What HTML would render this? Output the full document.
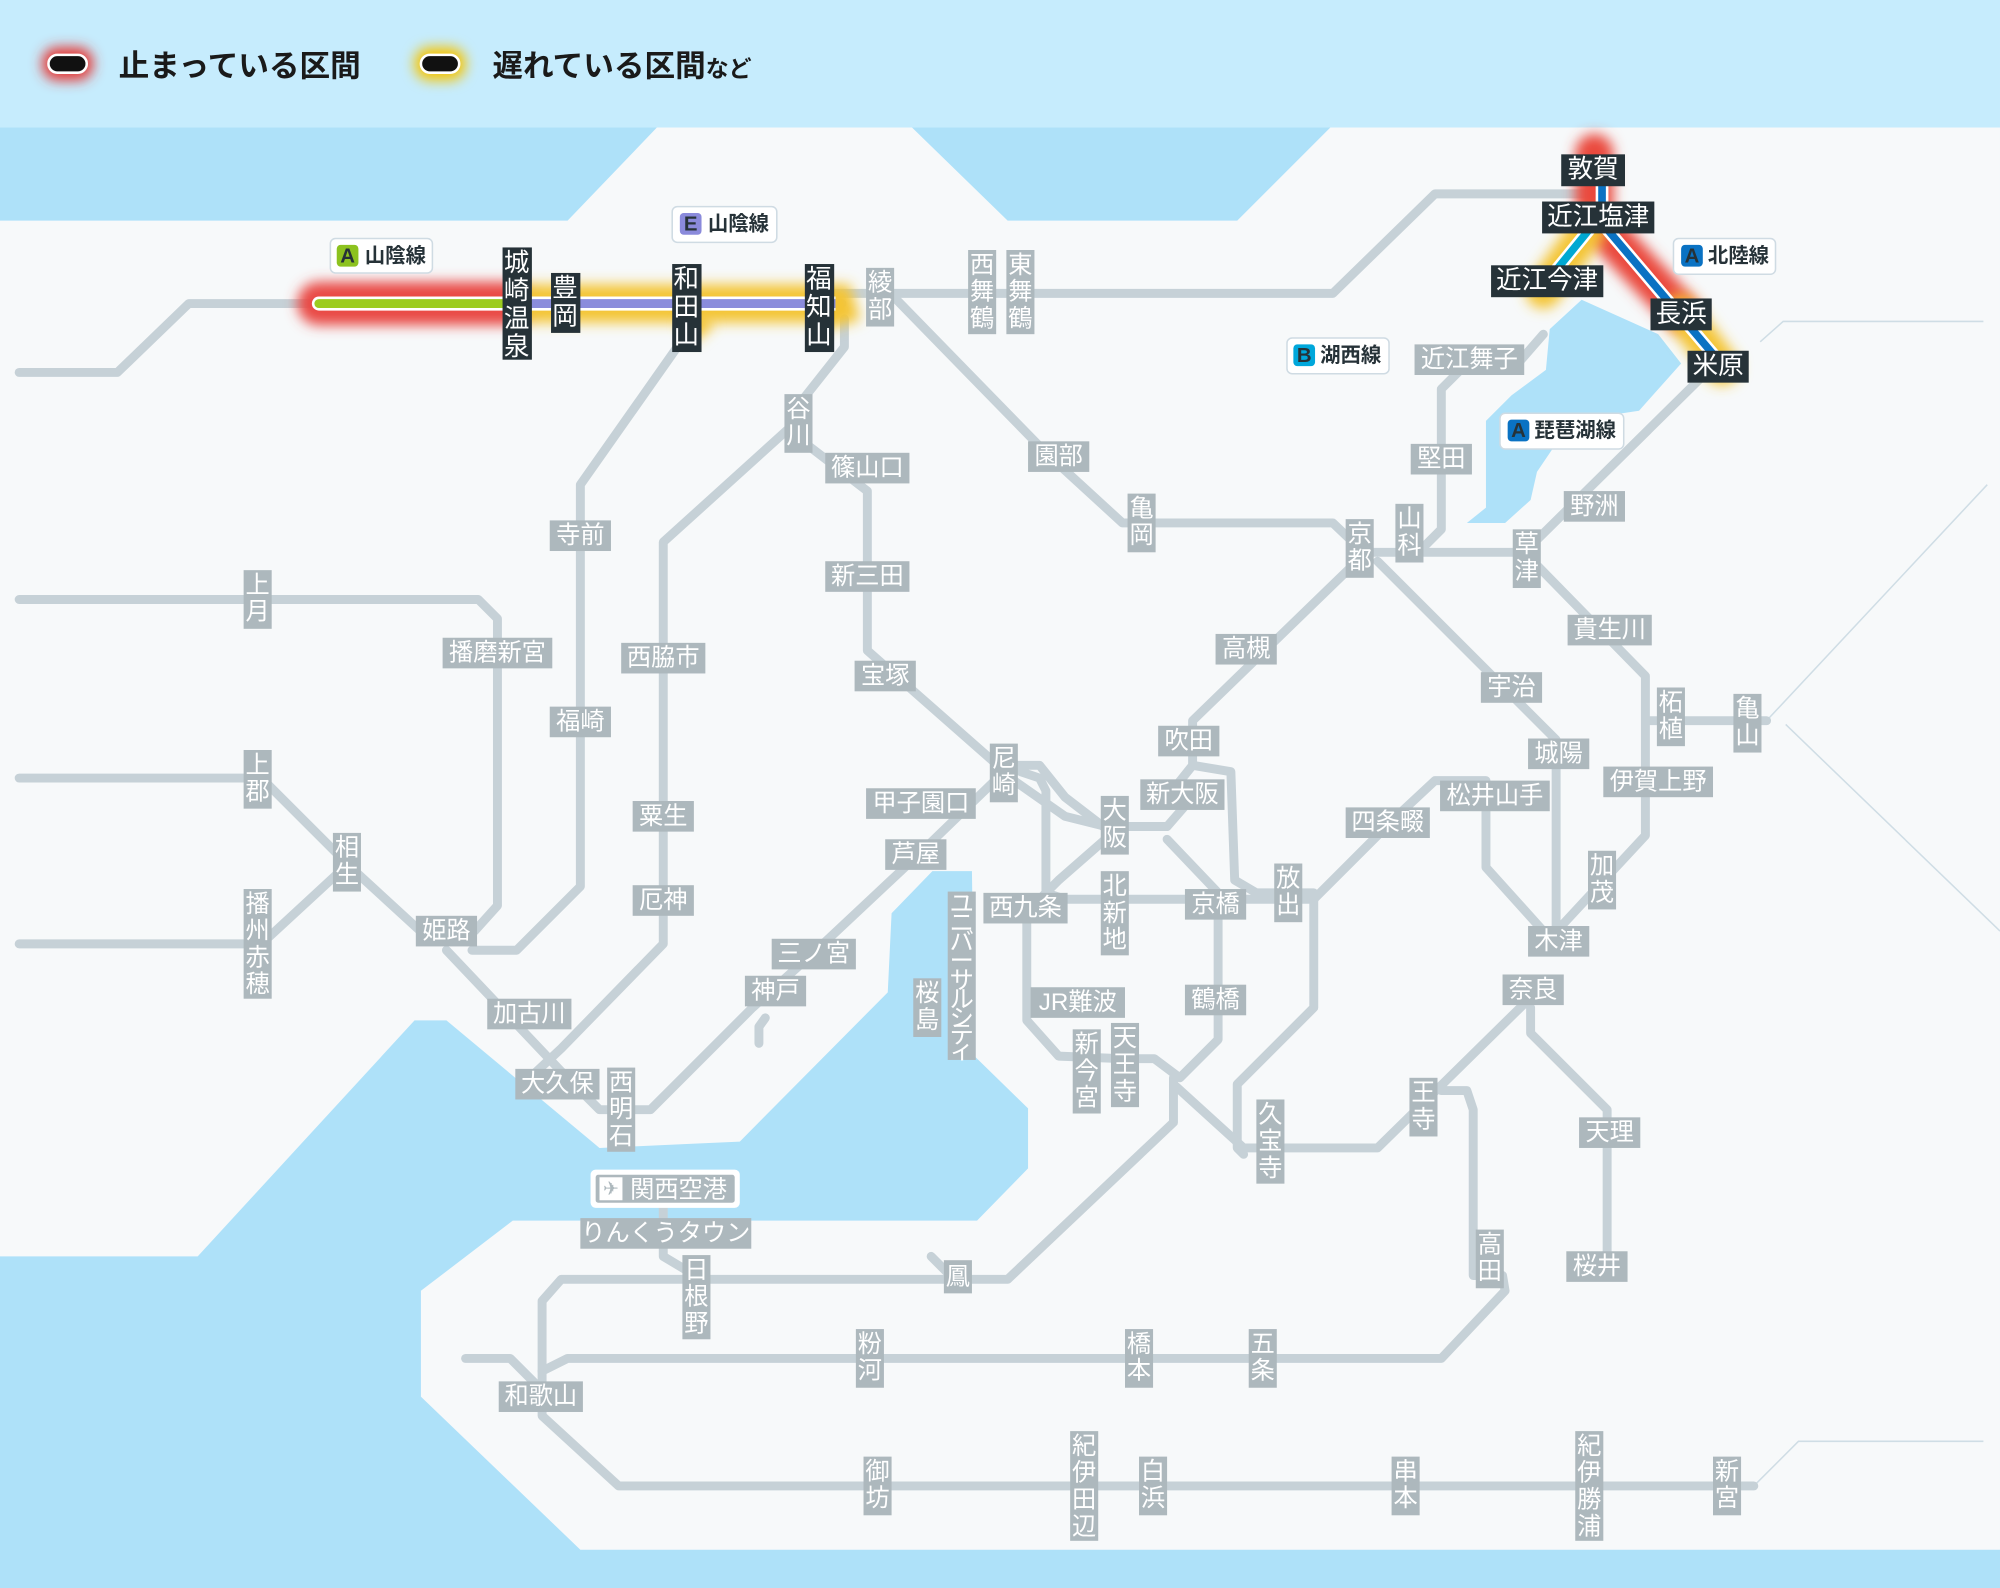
<!DOCTYPE html>
<html><head><meta charset="utf-8"><style>
html,body{margin:0;padding:0;width:2000px;height:1588px;overflow:hidden;background:#aee1f9}
svg{display:block}
text{font-family:"Liberation Sans","Noto Sans CJK JP",sans-serif}
.r{fill:none;stroke:#c6d1d7;stroke-width:7;stroke-linejoin:round;stroke-linecap:round}
.t{fill:none;stroke:#cfdde5;stroke-width:1.2}
.gl rect{fill:#adb8bd}.gl text{fill:#fff;font-size:19px;text-anchor:middle;dominant-baseline:central}
.dk rect{fill:#263238}.dk text{fill:#fff;font-size:20px;text-anchor:middle;dominant-baseline:central}
.bd rect.b{fill:#fff;stroke:#cfdbe3;stroke-width:1.2}
.bd text{font-size:16px;fill:#263238;dominant-baseline:central;font-weight:bold}
</style></head><body>
<svg width="2000" height="1588" viewBox="0 0 1568 1245" xmlns="http://www.w3.org/2000/svg">
<defs>
<filter id="bl" filterUnits="userSpaceOnUse" x="0" y="0" width="1568" height="1245"><feGaussianBlur stdDeviation="5"/></filter>
</defs>
<rect x="0" y="0" width="1568" height="100" fill="#c6ecfd"/>
<polygon fill="#f7f9fa" points="0,173 445,173 515,100 715,100 790,173 970,173 1043,100 1568,100 1568,1215 455,1215 330,1095 330,1012 402,957 766,957 806,916 806,869 764,828 762,683 731,683 699,716 696,778 580,895 470,900 350,800 325,800 155,985 0,985"/>
<polygon fill="#aee1f9" points="1150,410 1165,398 1165,330 1185,310 1212,290 1215,258 1240,235 1300,262 1318,285 1285,322 1232,330 1205,370 1200,392 1180,410"/>
<path class="t" d="M1385,565 L1558,380 M1400,568 L1568,730 M1380,268 L1398,252 L1555,252 M1375,1165 L1410,1130 L1555,1130"/>
<!-- header legend -->
<rect x="33" y="37" width="40" height="26" rx="12" fill="#e53935" filter="url(#bl)"/>
<rect x="38" y="43" width="30" height="14" rx="7" fill="#111" stroke="#fff" stroke-width="2"/>
<text x="93" y="60" font-size="24" font-weight="bold" fill="#1a1a1a">止まっている区間</text>
<rect x="325" y="37" width="40" height="26" rx="12" fill="#f5c400" filter="url(#bl)"/>
<rect x="330" y="43" width="30" height="14" rx="7" fill="#111" stroke="#fff" stroke-width="2"/>
<text x="386" y="60" font-size="24" font-weight="bold" fill="#1a1a1a">遅れている区間<tspan font-size="18">など</tspan></text>
<!-- rails -->
<path class="r" d="M15,292 L92,292 L148,238 L660,238 M640,230 L1045,230 L1125,152 L1250,152"/>
<path class="r" d="M700,232 L820,355 L880,410 L1045,410 L1066,430 M1066,433 L1195,433 M1066,438 L935,565 L935,600 L915,625 M1080,440 L1220,580 L1220,740"/>
<path class="r" d="M1195,433 L1350,280 M1195,433 L1290,530 L1290,565 L1385,565 M1290,565 L1290,655 L1225,725"/>
<path class="r" d="M1112,433 L1130,415 L1130,305 L1150,285 L1190,285 L1210,262"/>
<path class="r" d="M662,250 L662,272 L628,315 L628,345 L680,385 L680,510 L780,598 M625,330 L520,425 L520,740 L440,822 L410,850"/>
<path class="r" d="M543,255 L455,380 L455,695 L405,745 L370,745"/>
<path class="r" d="M15,470 L375,470 L390,485 L390,710 L372,730"/>
<path class="r" d="M15,610 L205,610 L275,680 L335,735 M15,740 L205,740 L270,680 M350,745 L440,840 L470,870 L510,870 L590,790 L640,745 L720,670 L780,612 L795,600 L815,600 L835,625 L865,648 L915,648 L935,625 M800,605 L815,610 L820,620 L820,700 L835,705 L1030,705 L1095,640 L1125,612 L1165,612 L1165,680 L1210,730 L1225,740"/>
<path class="r" d="M795,612 L835,640 L875,650 M870,655 L830,690 L805,715 L805,800 L830,828 L880,830 L905,830 L925,845 L955,815 L955,700 L915,658"/>
<path class="r" d="M595,818 L595,805 L600,798"/>
<path class="r" d="M935,600 L965,605 L968,690 L985,700 L1030,700 L1030,790 L970,850 L970,900 L975,905"/>
<path class="r" d="M920,850 L975,900 L1080,900 L1200,782 M1200,790 L1200,810 L1260,870 L1260,995 L1240,1000 M1130,855 L1150,855 L1155,870 L1155,1000 L1178,1000 L1180,1012 L1130,1065 L445,1065 L425,1075"/>
<path class="r" d="M920,845 L920,880 L790,1003 L440,1003 L425,1020 L425,1085 M545,1000 L520,985 L520,945 M730,985 L745,1000"/>
<path class="r" d="M365,1065 L400,1065 L425,1090 L425,1110 L485,1165 L1375,1165"/>
<!-- highlights -->
<path d="M250,238 L400,238" stroke="#e94a45" stroke-width="34" stroke-linecap="round" fill="none" filter="url(#bl)"/>
<path d="M405,238 L655,238 L660,255" stroke="#f4c535" stroke-width="30" fill="none" filter="url(#bl)"/>
<path d="M540,248 L552,262" stroke="#f4c535" stroke-width="20" fill="none" filter="url(#bl)"/>
<path d="M1250,120 L1250,172 L1318,245" stroke="#ea4a3c" stroke-width="30" stroke-linecap="round" fill="none" filter="url(#bl)"/>
<path d="M1318,245 L1350,288" stroke="#f4c535" stroke-width="28" stroke-linecap="round" fill="none" filter="url(#bl)"/>
<path d="M1245,180 L1210,228" stroke="#f4c535" stroke-width="28" stroke-linecap="round" fill="none" filter="url(#bl)"/>
<path d="M250,238 L400,238" stroke="#fff" stroke-width="11" stroke-linecap="round" fill="none"/>
<path d="M250,238 L400,238" stroke="#9ccc1f" stroke-width="7" stroke-linecap="round" fill="none"/>
<path d="M400,238 L655,238" stroke="#fff" stroke-width="11" fill="none"/>
<path d="M400,238 L655,238" stroke="#8a8cdc" stroke-width="7" fill="none"/>
<path d="M1256,135 L1256,175 L1345,280" stroke="#fff" stroke-width="10" stroke-linejoin="round" fill="none"/>
<path d="M1256,135 L1256,175 L1345,280" stroke="#0a72c3" stroke-width="6" stroke-linejoin="round" fill="none"/>
<path d="M1250,175 L1215,218" stroke="#fff" stroke-width="10" fill="none"/>
<path d="M1250,175 L1215,218" stroke="#00a8d2" stroke-width="6" fill="none"/>
<!-- gray horizontal labels -->
<g class="gl">
<rect x="431" y="408" width="48" height="24"/><text x="455" y="420">寺前</text>
<rect x="347" y="500" width="86" height="24"/><text x="390" y="512">播磨新宮</text>
<rect x="487" y="504" width="66" height="24"/><text x="520" y="516">西脇市</text>
<rect x="431" y="554" width="48" height="24"/><text x="455" y="566">福崎</text>
<rect x="496" y="628" width="48" height="24"/><text x="520" y="640">粟生</text>
<rect x="496" y="694" width="48" height="24"/><text x="520" y="706">厄神</text>
<rect x="326" y="718" width="48" height="24"/><text x="350" y="730">姫路</text>
<rect x="382" y="783" width="66" height="24"/><text x="415" y="795">加古川</text>
<rect x="404" y="838" width="66" height="24"/><text x="437" y="850">大久保</text>
<rect x="647" y="355" width="66" height="24"/><text x="680" y="367">篠山口</text>
<rect x="647" y="440" width="66" height="24"/><text x="680" y="452">新三田</text>
<rect x="670" y="518" width="48" height="24"/><text x="694" y="530">宝塚</text>
<rect x="679" y="618" width="86" height="24"/><text x="722" y="630">甲子園口</text>
<rect x="694" y="658" width="48" height="24"/><text x="718" y="670">芦屋</text>
<rect x="605" y="736" width="66" height="24"/><text x="638" y="748">三ノ宮</text>
<rect x="584" y="765" width="48" height="24"/><text x="608" y="777">神戸</text>
<rect x="806" y="346" width="48" height="24"/><text x="830" y="358">園部</text>
<rect x="953" y="497" width="48" height="24"/><text x="977" y="509">高槻</text>
<rect x="908" y="569" width="48" height="24"/><text x="932" y="581">吹田</text>
<rect x="894" y="611" width="66" height="24"/><text x="927" y="623">新大阪</text>
<rect x="1055" y="633" width="66" height="24"/><text x="1088" y="645">四条畷</text>
<rect x="1129" y="612" width="86" height="24"/><text x="1172" y="624">松井山手</text>
<rect x="1198" y="579" width="48" height="24"/><text x="1222" y="591">城陽</text>
<rect x="1161" y="527" width="48" height="24"/><text x="1185" y="539">宇治</text>
<rect x="929" y="697" width="48" height="24"/><text x="953" y="709">京橋</text>
<rect x="771" y="700" width="66" height="24"/><text x="804" y="712">西九条</text>
<rect x="808" y="774" width="74" height="24"/><text x="845" y="786">JR難波</text>
<rect x="929" y="772" width="48" height="24"/><text x="953" y="784">鶴橋</text>
<rect x="1198" y="726" width="48" height="24"/><text x="1222" y="738">木津</text>
<rect x="1178" y="764" width="48" height="24"/><text x="1202" y="776">奈良</text>
<rect x="1238" y="876" width="48" height="24"/><text x="1262" y="888">天理</text>
<rect x="1228" y="981" width="48" height="24"/><text x="1252" y="993">桜井</text>
<rect x="1229" y="482" width="66" height="24"/><text x="1262" y="494">貴生川</text>
<rect x="1257" y="601" width="86" height="24"/><text x="1300" y="613">伊賀上野</text>
<rect x="1226" y="385" width="48" height="24"/><text x="1250" y="397">野洲</text>
<rect x="1106" y="348" width="48" height="24"/><text x="1130" y="360">堅田</text>
<rect x="1109" y="270" width="86" height="24"/><text x="1152" y="282">近江舞子</text>
<rect x="455" y="955" width="134" height="24"/><text x="522" y="967">りんくうタウン</text>
<rect x="391" y="1083" width="66" height="24"/><text x="424" y="1095">和歌山</text>
</g>
<!-- gray vertical labels -->
<g class="gl">
<rect x="679" y="210" width="22" height="46"/><text x="690" y="222">綾</text><text x="690" y="243">部</text>
<rect x="759" y="196" width="22" height="66"/><text x="770" y="208">西</text><text x="770" y="229">舞</text><text x="770" y="250">鶴</text>
<rect x="789" y="196" width="22" height="66"/><text x="800" y="208">東</text><text x="800" y="229">舞</text><text x="800" y="250">鶴</text>
<rect x="615" y="309" width="22" height="46"/><text x="626" y="321">谷</text><text x="626" y="342">川</text>
<rect x="884" y="387" width="22" height="46"/><text x="895" y="399">亀</text><text x="895" y="420">岡</text>
<rect x="1055" y="407" width="22" height="46"/><text x="1066" y="419">京</text><text x="1066" y="440">都</text>
<rect x="1094" y="395" width="22" height="46"/><text x="1105" y="407">山</text><text x="1105" y="428">科</text>
<rect x="1186" y="415" width="22" height="46"/><text x="1197" y="427">草</text><text x="1197" y="448">津</text>
<rect x="1299" y="539" width="22" height="46"/><text x="1310" y="551">柘</text><text x="1310" y="572">植</text>
<rect x="1359" y="544" width="22" height="46"/><text x="1370" y="556">亀</text><text x="1370" y="577">山</text>
<rect x="1245" y="667" width="22" height="46"/><text x="1256" y="679">加</text><text x="1256" y="700">茂</text>
<rect x="191" y="447" width="22" height="46"/><text x="202" y="459">上</text><text x="202" y="480">月</text>
<rect x="191" y="588" width="22" height="46"/><text x="202" y="600">上</text><text x="202" y="621">郡</text>
<rect x="261" y="653" width="22" height="46"/><text x="272" y="665">相</text><text x="272" y="686">生</text>
<rect x="191" y="697" width="22" height="86"/><text x="202" y="709">播</text><text x="202" y="730">州</text><text x="202" y="751">赤</text><text x="202" y="772">穂</text>
<rect x="476" y="837" width="22" height="66"/><text x="487" y="849">西</text><text x="487" y="870">明</text><text x="487" y="891">石</text>
<rect x="776" y="583" width="22" height="46"/><text x="787" y="595">尼</text><text x="787" y="616">崎</text>
<rect x="863" y="624" width="22" height="46"/><text x="874" y="636">大</text><text x="874" y="657">阪</text>
<rect x="863" y="683" width="22" height="66"/><text x="874" y="695">北</text><text x="874" y="716">新</text><text x="874" y="737">地</text>
<rect x="999" y="677" width="22" height="46"/><text x="1010" y="689">放</text><text x="1010" y="710">出</text>
<rect x="743" y="699" width="22" height="132"/>
<text x="754" y="709" font-size="15">ユ</text><text x="754" y="724" font-size="15">ニ</text><text x="754" y="739" font-size="15">バ</text><text x="754" y="754" font-size="15">ー</text><text x="754" y="769" font-size="15">サ</text><text x="754" y="784" font-size="15">ル</text><text x="754" y="799" font-size="15">シ</text><text x="754" y="812" font-size="14">テ</text><text x="754" y="824" font-size="12">ィ</text>
<rect x="716" y="767" width="22" height="46"/><text x="727" y="779">桜</text><text x="727" y="800">島</text>
<rect x="841" y="807" width="22" height="66"/><text x="852" y="819">新</text><text x="852" y="840">今</text><text x="852" y="861">宮</text>
<rect x="871" y="802" width="22" height="66"/><text x="882" y="814">天</text><text x="882" y="835">王</text><text x="882" y="856">寺</text>
<rect x="985" y="862" width="22" height="66"/><text x="996" y="874">久</text><text x="996" y="895">宝</text><text x="996" y="916">寺</text>
<rect x="1105" y="845" width="22" height="46"/><text x="1116" y="857">王</text><text x="1116" y="878">寺</text>
<rect x="1157" y="964" width="22" height="46"/><text x="1168" y="976">高</text><text x="1168" y="997">田</text>
<rect x="535" y="984" width="22" height="66"/><text x="546" y="996">日</text><text x="546" y="1017">根</text><text x="546" y="1038">野</text>
<rect x="740" y="988" width="22" height="26"/><text x="751" y="1001">鳳</text>
<rect x="671" y="1042" width="22" height="46"/><text x="682" y="1054">粉</text><text x="682" y="1075">河</text>
<rect x="882" y="1042" width="22" height="46"/><text x="893" y="1054">橋</text><text x="893" y="1075">本</text>
<rect x="979" y="1042" width="22" height="46"/><text x="990" y="1054">五</text><text x="990" y="1075">条</text>
<rect x="677" y="1142" width="22" height="46"/><text x="688" y="1154">御</text><text x="688" y="1175">坊</text>
<rect x="839" y="1122" width="22" height="86"/><text x="850" y="1134">紀</text><text x="850" y="1155">伊</text><text x="850" y="1176">田</text><text x="850" y="1197">辺</text>
<rect x="893" y="1142" width="22" height="46"/><text x="904" y="1154">白</text><text x="904" y="1175">浜</text>
<rect x="1091" y="1142" width="22" height="46"/><text x="1102" y="1154">串</text><text x="1102" y="1175">本</text>
<rect x="1235" y="1122" width="22" height="86"/><text x="1246" y="1134">紀</text><text x="1246" y="1155">伊</text><text x="1246" y="1176">勝</text><text x="1246" y="1197">浦</text>
<rect x="1343" y="1142" width="22" height="46"/><text x="1354" y="1154">新</text><text x="1354" y="1175">宮</text>
</g>
<!-- dark labels -->
<g class="dk">
<rect x="394" y="194" width="23" height="88"/><text x="405" y="206">城</text><text x="405" y="228">崎</text><text x="405" y="250">温</text><text x="405" y="272">泉</text>
<rect x="432" y="214" width="23" height="47"/><text x="443" y="226">豊</text><text x="443" y="248">岡</text>
<rect x="527" y="207" width="23" height="69"/><text x="538" y="219">和</text><text x="538" y="241">田</text><text x="538" y="263">山</text>
<rect x="631" y="207" width="23" height="69"/><text x="642" y="219">福</text><text x="642" y="241">知</text><text x="642" y="263">山</text>
<rect x="1224" y="121" width="50" height="25"/><text x="1249" y="133">敦賀</text>
<rect x="1209" y="158" width="88" height="25"/><text x="1253" y="170">近江塩津</text>
<rect x="1169" y="208" width="88" height="25"/><text x="1213" y="220">近江今津</text>
<rect x="1294" y="234" width="48" height="25"/><text x="1318" y="246">長浜</text>
<rect x="1323" y="275" width="48" height="25"/><text x="1347" y="287">米原</text>
</g>
<!-- line badges -->
<g class="bd">
<rect class="b" x="259" y="187" width="80" height="27" rx="4"/><rect x="264" y="192" width="17" height="17" rx="3" fill="#8cc21f"/><text x="272.5" y="201" text-anchor="middle" fill="#263238">A</text><text x="286" y="201">山陰線</text>
<rect class="b" x="527" y="162" width="82" height="28" rx="4"/><rect x="533" y="167" width="17" height="17" rx="3" fill="#8a8adb"/><text x="541.5" y="176" text-anchor="middle" fill="#fff">E</text><text x="555" y="176">山陰線</text>
<rect class="b" x="1312" y="187" width="80" height="28" rx="4"/><rect x="1318" y="192" width="17" height="17" rx="3" fill="#0a72c3"/><text x="1326.5" y="201" text-anchor="middle" fill="#fff">A</text><text x="1339" y="201">北陸線</text>
<rect class="b" x="1009" y="265" width="80" height="28" rx="4"/><rect x="1014" y="270" width="17" height="17" rx="3" fill="#00a7db"/><text x="1022.5" y="279" text-anchor="middle" fill="#fff">B</text><text x="1035" y="279">湖西線</text>
<rect class="b" x="1176" y="324" width="97" height="28" rx="4"/><rect x="1182" y="329" width="17" height="17" rx="3" fill="#0a72c3"/><text x="1190.5" y="338" text-anchor="middle" fill="#fff">A</text><text x="1203" y="338">琵琶湖線</text>
</g>
<!-- airport -->
<rect x="463" y="917" width="117" height="30" rx="4" fill="#fff"/>
<rect x="467" y="921" width="109" height="22" rx="2" fill="#adb8bd"/>
<rect x="470" y="923" width="18" height="18" fill="#fff"/>
<text x="479" y="937" font-size="15" text-anchor="middle" fill="#adb8bd">✈</text>
<text x="532" y="939" font-size="19" text-anchor="middle" fill="#fff">関西空港</text>
</svg>
</body></html>
